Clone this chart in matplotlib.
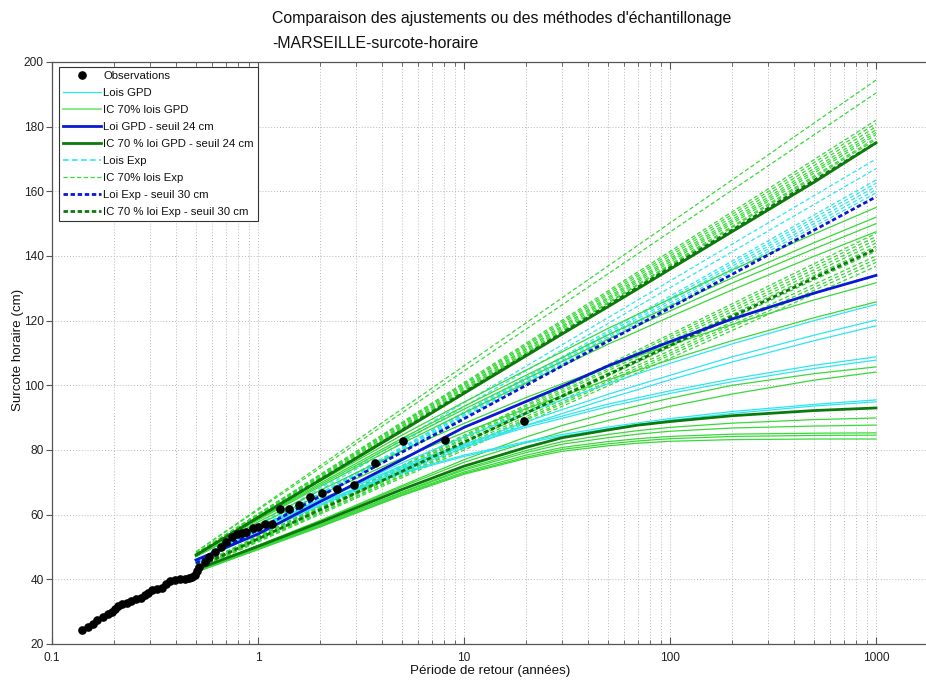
import matplotlib
matplotlib.use("Agg")
import matplotlib.pyplot as plt
from matplotlib.lines import Line2D
from matplotlib.ticker import LogLocator, NullFormatter, FixedLocator

plt.rcParams['font.family'] = ['Liberation Sans', 'DejaVu Sans']

# ---------------- data ----------------
T_obs = [0.140, 0.150, 0.158, 0.165, 0.177, 0.187, 0.196, 0.202, 0.209, 0.219,
         0.231, 0.242, 0.256, 0.270, 0.283, 0.292, 0.306, 0.323, 0.342, 0.358,
         0.374, 0.395, 0.418, 0.442, 0.462, 0.478, 0.494, 0.506, 0.517, 0.55,
         0.58, 0.62, 0.66, 0.70, 0.75, 0.79, 0.833, 0.874, 0.944, 1.00,
         1.08, 1.17, 1.28, 1.41, 1.58, 1.79, 2.05, 2.42, 2.92, 3.70,
         5.06, 8.09, 19.5]
y_obs = [24.3, 25.3, 26.2, 27.4, 28.3, 29.3, 29.9, 30.8, 31.8, 32.4,
         32.7, 33.3, 33.9, 34.2, 35.2, 35.8, 36.7, 37.0, 37.3, 38.6,
         39.5, 39.8, 40.1, 40.1, 40.4, 40.7, 41.3, 42.6, 43.8, 45.5,
         47.0, 48.5, 50.0, 51.5, 53.0, 54.0, 54.2, 54.7, 55.9, 56.2,
         57.1, 57.1, 61.8, 61.8, 63.0, 65.5, 66.7, 68.0, 69.2, 76.0,
         82.8, 83.0, 89.0]

# return periods for the GPD curves
T_fit = [0.5, 1, 2, 5, 10, 20, 30, 50, 70, 100, 200, 500, 1000]

# Lois GPD (cyan, solid)
gpd_lois = [
    [45, 55.1, 64.4, 76.0, 84.0, 91.5, 95.5, 100.5, 103.6, 106.8, 112.8, 120.0, 125.0],
    [45, 54.5, 63.2, 74.1, 81.6, 88.7, 92.5, 97.2, 100.1, 103.1, 108.8, 115.5, 120.2],
    [45, 54.2, 62.8, 73.4, 80.7, 87.6, 91.3, 95.9, 98.7, 101.7, 107.2, 113.8, 118.4],
    [45, 55.5, 64.8, 75.1, 81.8, 87.6, 90.5, 94.2, 96.2, 98.3, 102.0, 106.2, 108.8],
    [45, 55.4, 64.5, 74.6, 81.2, 87.0, 89.8, 93.4, 95.4, 97.5, 101.1, 105.2, 107.8],
    [45, 55.6, 64.1, 73.1, 78.4, 82.6, 84.8, 87.1, 88.4, 89.7, 91.9, 94.1, 95.5],
    [45, 55.5, 63.9, 72.8, 78.0, 82.2, 84.3, 86.6, 87.9, 89.2, 91.3, 93.6, 94.9],
]
# IC 70% lois GPD (green, solid)
gpd_ic = [
    [47.5, 59.1, 70.3, 84.6, 94.8, 104.7, 110.4, 117.6, 122.0, 126.7, 135.7, 146.8, 155.0],
    [47.5, 58.8, 69.7, 83.6, 93.5, 103.1, 108.6, 115.6, 119.9, 124.5, 133.2, 144.1, 152.0],
    [47.5, 58.6, 69.2, 82.9, 92.6, 102.0, 107.4, 114.3, 118.5, 123.0, 131.6, 142.2, 150.0],
    [47.5, 58.3, 68.7, 82.0, 91.5, 100.7, 106.0, 112.7, 116.8, 121.2, 129.5, 139.9, 147.5],
    [47.0, 57.7, 67.5, 79.8, 88.2, 96.2, 100.5, 105.8, 109.1, 112.5, 118.8, 126.4, 131.7],
    [47.0, 56.9, 66.1, 77.5, 85.4, 92.8, 96.7, 101.7, 104.7, 107.9, 113.8, 120.9, 125.8],
    [43.0, 50.5, 58.2, 69.0, 77.0, 84.0, 87.6, 91.5, 93.7, 96.0, 100.0, 103.6, 105.7],
    [43.0, 50.4, 58.0, 68.6, 76.2, 82.3, 85.6, 89.1, 91.2, 93.5, 97.3, 101.6, 104.1],
    [42.5, 49.8, 57.0, 67.0, 74.2, 79.8, 82.6, 84.8, 86.0, 87.0, 88.3, 89.4, 89.9],
    [42.5, 49.6, 56.8, 66.8, 73.8, 79.2, 81.8, 83.8, 84.9, 85.8, 86.8, 87.4, 87.7],
    [42.3, 49.4, 56.5, 66.4, 73.2, 78.4, 80.8, 82.6, 83.5, 84.2, 84.9, 85.2, 85.3],
    [42.3, 49.3, 56.3, 66.1, 72.8, 77.8, 80.2, 81.9, 82.8, 83.5, 84.2, 84.5, 84.6],
    [42.2, 49.2, 56.2, 65.9, 72.5, 77.4, 79.6, 81.3, 82.1, 82.7, 83.2, 83.4, 83.4],
]
# Loi GPD - seuil 24 cm (blue, thick) and its IC 70 % (dark green, thick)
gpd_24 = [46, 54, 64, 77, 87, 95, 99.7, 106, 109.7, 113.5, 120.5, 128.5, 134]
gpd_24_ic_up = [47.5, 59.1, 70.7, 85.9, 97.5, 109.1, 115.9, 124.3, 129.9, 135.9, 147.5, 162.8, 175.0]
gpd_24_ic_low = [43.0, 50.2, 57.6, 67.8, 75.0, 80.8, 83.8, 86.2, 87.7, 88.8, 90.6, 92.2, 93.0]

# exponential fits are straight lines on the log axis: start (T=0.5) / end (T=1000)
T_exp = [0.5, 1000]
exp_lois_start = [45.5, 45.5, 45.0, 45.0, 45.0, 45.0, 45.0]
exp_lois_end = [170.0, 167.0, 163.5, 162.5, 161.5, 160.5, 159.5]
exp_ic_start = [48.5, 48.5, 48.0, 48.0, 48.0, 47.8, 47.8, 47.5, 47.5, 47.5,
                44.0, 44.0, 43.8, 43.8, 43.5, 43.5, 43.5, 43.2, 43.2, 43.0]
exp_ic_end = [194.4, 190.4, 182.0, 181.0, 180.0, 179.0, 178.2, 177.5, 176.5, 176.0,
              147.0, 146.0, 145.0, 144.0, 143.0, 141.5, 140.0, 139.0, 138.0, 136.8]
exp_30 = [45.0, 158.3]
exp_30_ic_up = [47.5, 175.0]
exp_30_ic_low = [43.5, 142.2]

# ---------------- style ----------------
c_cyan = '#2fe6ee'
c_green = '#3ad83a'
c_blue = '#0a18d2'
c_dgreen = '#0b7a0b'
thin = 0.9
thick = 2.0
dash_thin = (0, (3.4, 2.0))
dash_thick = (0, (1.6, 0.95))

fig = plt.figure(figsize=(9.26, 6.81), dpi=100)
ax = fig.add_axes([52/926, 1-644/681, (938-52)/926, (644-62)/681])
ax.set_xscale('log')

for s, e in zip(exp_ic_start, exp_ic_end):
    ax.plot(T_exp, [s, e], color=c_green, lw=thin, ls=dash_thin)
for s, e in zip(exp_lois_start, exp_lois_end):
    ax.plot(T_exp, [s, e], color=c_cyan, lw=thin, ls=dash_thin)
for ys in gpd_ic:
    ax.plot(T_fit, ys, color=c_green, lw=thin)
for ys in gpd_lois:
    ax.plot(T_fit, ys, color=c_cyan, lw=thin)

ax.plot(T_fit, gpd_24_ic_up, color=c_dgreen, lw=thick)
ax.plot(T_fit, gpd_24_ic_low, color=c_dgreen, lw=thick)
ax.plot(T_exp, exp_30_ic_up, color=c_dgreen, lw=thick, ls=dash_thick)
ax.plot(T_exp, exp_30_ic_low, color=c_dgreen, lw=thick, ls=dash_thick)
ax.plot(T_fit, gpd_24, color=c_blue, lw=thick)
ax.plot(T_exp, exp_30, color=c_blue, lw=thick, ls=dash_thick)

ax.plot(T_obs, y_obs, 'o', color='black', ms=5.2, zorder=10)

ax.set_xlim(0.1, 2000)
ax.set_ylim(20, 200)
ax.xaxis.set_major_locator(FixedLocator([0.1, 1, 10, 100, 1000]))
ax.set_xticklabels(['0.1', '1', '10', '100', '1000'])
ax.xaxis.set_minor_locator(LogLocator(base=10, subs=range(2, 10), numticks=20))
ax.xaxis.set_minor_formatter(NullFormatter())
ax.set_yticks(range(20, 201, 20))

ax.grid(True, which='both', axis='x', linestyle=(0, (1, 2)), color='#b8b8b8', lw=0.7)
ax.grid(True, which='major', axis='y', linestyle=(0, (1, 2)), color='#b8b8b8', lw=0.7)
ax.set_axisbelow(True)

for sp in ax.spines.values():
    sp.set_color('#555555')
    sp.set_linewidth(0.9)
ax.tick_params(axis='x', which='both', direction='in', top=True, colors='#555555',
               labelcolor='#222222', labelsize=8.6, pad=6)
ax.tick_params(axis='x', which='major', length=5)
ax.tick_params(axis='x', which='minor', length=3)
ax.tick_params(axis='y', which='major', direction='out', length=4, colors='#555555',
               labelcolor='#222222', labelsize=8.6, pad=2)

fig.text(490/926, 1-671/681, 'Période de retour (années)', ha='center', va='center',
         fontsize=9.6, color='#111111')
fig.text(18/926, 1-350/681, 'Surcote horaire (cm)', ha='center', va='center',
         rotation=90, fontsize=9.6, color='#111111')

fig.text(272/926, 1-18/681, "Comparaison des ajustements ou des méthodes d'échantillonage",
         ha='left', va='center', fontsize=11.4, color='#111111')
fig.text(272/926, 1-44/681, "-MARSEILLE-surcote-horaire",
         ha='left', va='center', fontsize=11.4, color='#111111')

handles = [
    Line2D([], [], marker='o', color='black', ls='none', ms=5.2),
    Line2D([], [], color=c_cyan, lw=thin),
    Line2D([], [], color='#8fe88f', lw=thin + 0.6),
    Line2D([], [], color=c_blue, lw=thick),
    Line2D([], [], color=c_dgreen, lw=thick),
    Line2D([], [], color=c_cyan, lw=thin + 0.3, ls=dash_thin),
    Line2D([], [], color=c_green, lw=thin, ls=dash_thin),
    Line2D([], [], color=c_blue, lw=thick, ls=dash_thick),
    Line2D([], [], color=c_dgreen, lw=thick, ls=dash_thick),
]
labels = ['Observations', 'Lois GPD', 'IC 70% lois GPD', 'Loi GPD - seuil 24 cm',
          'IC 70 % loi GPD - seuil 24 cm', 'Lois Exp', 'IC 70% lois Exp',
          'Loi Exp - seuil 30 cm', 'IC 70 % loi Exp - seuil 30 cm']
leg = ax.legend(handles, labels, loc='upper left',
                bbox_to_anchor=(59/926, 1-67/681), bbox_transform=fig.transFigure,
                borderaxespad=0, fontsize=8.2, handlelength=3.3, handletextpad=0.25,
                labelspacing=0.61, borderpad=0.35, numpoints=1, fancybox=False,
                framealpha=1, edgecolor='#333333')
leg.get_frame().set_linewidth(0.8)
for t in leg.get_texts():
    t.set_color('#111111')

fig.savefig('out.png', dpi=100)
